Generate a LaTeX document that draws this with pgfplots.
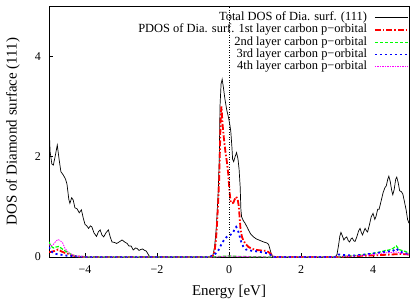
\documentclass[border=0pt]{standalone}
\usepackage{fontspec}
\setmainfont{Liberation Serif}
\usepackage{pgfplots}
\pgfplotsset{compat=1.18}
\definecolor{gpgreen}{RGB}{0,255,0}
\definecolor{gpmag}{RGB}{255,0,255}
\begin{document}
\begin{tikzpicture}
\begin{axis}[
  name=main,
  scale only axis, width=360bp, height=251bp,
  xmin=-5, xmax=5, ymin=0, ymax=5,
  xtick={-4,-2,0,2,4}, xticklabels={−4,−2,0,2,4},
  ytick={0,2,4}, yticklabels={0,2,4},
  xtick pos=bottom, ytick pos=left,
  tick align=inside, major tick length=4bp,
  axis line style={line width=0.8bp},
  every tick/.style={black, line width=0.6bp},
  tick label style={font=\fontsize{12}{12}\selectfont},
  xticklabel style={anchor=center, inner sep=0pt, yshift=-13bp},
  yticklabel style={anchor=east, inner sep=0pt, xshift=-8bp},
  xlabel={Energy [eV]}, ylabel={DOS of Diamond surface (111)},
  every axis x label/.style={at={(rel axis cs:0.5,0)}, yshift=-35bp, anchor=center, font=\fontsize{15}{15}\selectfont},
  every axis y label/.style={at={(rel axis cs:0,0.5)}, xshift=-36bp, rotate=90, anchor=center, font=\fontsize{15}{15}\selectfont},
  legend plot pos=right,
  legend cell align=right,
  legend image code/.code={\draw[#1] (0bp,0bp) -- (33bp,0bp);},
  legend style={at={(rel axis cs:1,1)}, anchor=north east, yshift=-5.5bp,
    draw=none, fill=none, inner sep=0pt, column sep=7bp, row sep=0pt,
    font=\fontsize{12.5}{13}\selectfont,
    nodes={inner sep=0pt, text height=9bp, text depth=3.2bp}},
]
\addplot[black, line width=0.7bp] coordinates {
(-5.00,2.66) (-4.97,2.10) (-4.92,1.85) (-4.88,1.83) (-4.83,2.00) (-4.77,2.23) (-4.72,1.95) (-4.67,1.70) (-4.60,1.63) (-4.54,1.55) (-4.50,1.45) (-4.45,1.15) (-4.42,1.07) (-4.37,1.18) (-4.33,1.14) (-4.28,0.98) (-4.22,0.96) (-4.16,0.88) (-4.10,0.94) (-4.05,0.78) (-4.00,0.65) (-3.95,0.62) (-3.90,0.57) (-3.85,0.62) (-3.81,0.60) (-3.75,0.48) (-3.68,0.41) (-3.63,0.50) (-3.58,0.54) (-3.53,0.44) (-3.48,0.40) (-3.42,0.48) (-3.35,0.54) (-3.30,0.40) (-3.25,0.30) (-3.18,0.29) (-3.12,0.27) (-3.05,0.30) (-2.97,0.34) (-2.90,0.30) (-2.83,0.27) (-2.78,0.22) (-2.72,0.22) (-2.66,0.14) (-2.60,0.18) (-2.55,0.17) (-2.50,0.13) (-2.45,0.15) (-2.40,0.16) (-2.34,0.13) (-2.30,0.12) (-2.25,0.06) (-2.20,0.00)
(-0.50,0.00) (-0.45,0.02) (-0.40,0.20) (-0.35,0.60) (-0.30,1.30) (-0.27,1.95) (-0.25,3.00) (-0.22,3.45) (-0.19,3.54) (-0.16,3.40) (-0.11,3.13) (-0.06,2.92) (-0.02,2.80) (0.02,2.65) (0.05,2.50) (0.08,2.20) (0.10,1.95) (0.13,1.90) (0.17,2.00) (0.21,2.08) (0.25,1.95) (0.28,1.75) (0.31,1.40) (0.33,0.95) (0.35,0.80) (0.40,0.72) (0.44,0.68) (0.50,0.60) (0.54,0.54) (0.60,0.46) (0.68,0.40) (0.76,0.36) (0.86,0.33) (0.96,0.30) (1.05,0.28) (1.10,0.25) (1.14,0.15) (1.18,0.05) (1.22,0.00)
(2.95,0.00) (3.00,0.05) (3.04,0.22) (3.08,0.42) (3.11,0.49) (3.15,0.42) (3.19,0.34) (3.23,0.38) (3.27,0.40) (3.31,0.33) (3.35,0.30) (3.39,0.36) (3.42,0.38) (3.47,0.32) (3.50,0.31) (3.55,0.40) (3.60,0.52) (3.64,0.57) (3.68,0.48) (3.71,0.44) (3.75,0.52) (3.78,0.57) (3.82,0.52) (3.85,0.50) (3.90,0.64) (3.95,0.80) (4.00,0.87) (4.05,0.75) (4.08,0.80) (4.13,0.95) (4.17,0.95) (4.22,1.10) (4.28,1.28) (4.33,1.38) (4.37,1.42) (4.41,1.55) (4.44,1.61) (4.48,1.50) (4.52,1.32) (4.55,1.24) (4.59,1.35) (4.63,1.55) (4.66,1.59) (4.70,1.48) (4.74,1.32) (4.79,1.30) (4.83,1.25) (4.88,1.08) (4.92,0.94) (4.96,0.75) (5.00,0.67)
};
\addlegendentry{Total DOS of Dia. surf. (111)}
\addplot[red, line width=1.8bp, dash pattern=on 6bp off 2bp on 1.5bp off 2bp] coordinates {
(-5.00,0.10) (-4.95,0.10) (-4.85,0.12) (-4.75,0.15) (-4.65,0.11) (-4.55,0.08) (-4.45,0.06) (-4.35,0.03) (-4.20,0.01) (-4.00,0.00)
(-0.50,0.00) (-0.45,0.02) (-0.40,0.12) (-0.36,0.35) (-0.33,0.70) (-0.30,1.10) (-0.27,1.60) (-0.25,2.20) (-0.23,2.80) (-0.21,3.00) (-0.18,2.65) (-0.14,2.35) (-0.10,2.10) (-0.06,1.90) (-0.02,1.65) (0.01,1.35) (0.04,1.12) (0.08,1.07) (0.12,1.08) (0.16,1.15) (0.20,1.20) (0.24,1.15) (0.27,1.02) (0.30,0.75) (0.32,0.55) (0.36,0.40) (0.40,0.33) (0.46,0.26) (0.54,0.20) (0.65,0.16) (0.77,0.14) (0.90,0.13) (1.05,0.12) (1.15,0.07) (1.22,0.01) (1.30,0.00)
(3.00,0.00) (3.50,0.02) (4.00,0.03) (4.50,0.05) (4.80,0.06) (5.00,0.05)
};
\addlegendentry{PDOS of Dia. surf. 1st layer carbon p−orbital}
\addplot[gpgreen, line width=1.2bp, dash pattern=on 3.5bp off 1.5bp] coordinates {
(-5.00,0.30) (-4.95,0.22) (-4.88,0.18) (-4.80,0.20) (-4.72,0.21) (-4.65,0.17) (-4.55,0.12) (-4.45,0.08) (-4.35,0.04) (-4.20,0.01) (-4.00,0.00)
(-0.50,0.00) (-0.30,0.01) (0.00,0.02) (0.30,0.01) (1.20,0.00)
(3.00,0.00) (3.50,0.03) (4.00,0.07) (4.20,0.10) (4.35,0.13) (4.45,0.14) (4.55,0.17) (4.65,0.22) (4.72,0.15) (4.80,0.13) (4.90,0.11) (5.00,0.08)
};
\addlegendentry{2nd layer carbon p−orbital}
\addplot[blue, line width=1.8bp, dash pattern=on 2bp off 3bp] coordinates {
(-5.00,0.20) (-4.95,0.12) (-4.88,0.08) (-4.80,0.06) (-4.70,0.05) (-4.55,0.03) (-4.40,0.02) (-4.20,0.01) (-4.00,0.00)
(-0.55,0.00) (-0.45,0.03) (-0.35,0.08) (-0.29,0.14) (-0.20,0.27) (-0.11,0.37) (-0.03,0.42) (0.03,0.44) (0.08,0.46) (0.12,0.50) (0.16,0.56) (0.20,0.60) (0.24,0.55) (0.27,0.48) (0.30,0.40) (0.34,0.30) (0.40,0.20) (0.47,0.15) (0.54,0.14) (0.65,0.12) (0.80,0.11) (0.95,0.09) (1.10,0.07) (1.20,0.02) (1.25,0.00)
(2.95,0.00) (3.05,0.05) (3.20,0.04) (3.50,0.03) (3.80,0.05) (4.00,0.07) (4.20,0.09) (4.40,0.11) (4.55,0.12) (4.65,0.17) (4.72,0.12) (4.85,0.08) (5.00,0.06)
};
\addlegendentry{3rd layer carbon p−orbital}
\addplot[gpmag, line width=0.8bp, dash pattern=on 1.5bp off 1bp] coordinates {
(-5.00,0.25) (-4.95,0.22) (-4.88,0.25) (-4.80,0.32) (-4.75,0.35) (-4.68,0.32) (-4.62,0.28) (-4.56,0.18) (-4.50,0.12) (-4.42,0.07) (-4.30,0.03) (-4.15,0.01) (-4.00,0.00)
(-0.40,0.00) (-0.20,0.01) (0.00,0.02) (0.30,0.01) (1.20,0.00)
(3.00,0.00) (3.50,0.02) (4.00,0.05) (4.30,0.08) (4.50,0.09) (4.65,0.10) (4.80,0.07) (5.00,0.05)
};
\addlegendentry{4th layer carbon p−orbital}
\addplot[black, line width=0.5bp, dotted, forget plot] coordinates {(0,0) (0,5)};
\end{axis}
\pgfresetboundingbox
\path ([shift={(-49bp,-50bp)}]main.south west) rectangle ([shift={(6bp,6bp)}]main.north east);
\end{tikzpicture}
\end{document}
